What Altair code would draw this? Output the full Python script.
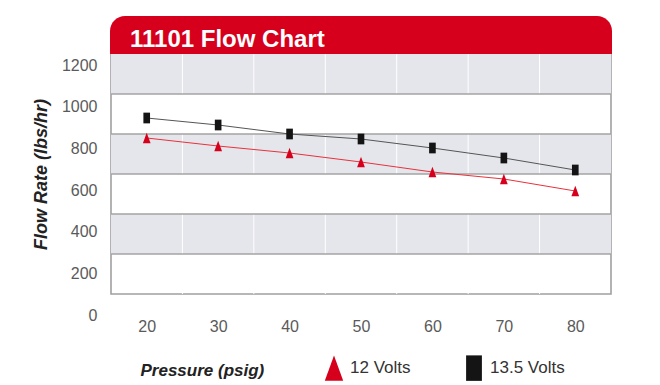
import altair as alt
import pandas as pd

title_text = "11101 Flow Chart"
pressure = [20, 30, 40, 50, 60, 70, 80]
volts_12 = [780, 740, 705, 660, 610, 575, 515]
volts_135 = [880, 845, 800, 775, 730, 680, 620]
series_names = ["12 Volts", "13.5 Volts"]
y_ticks = [0, 200, 400, 600, 800, 1000, 1200]
band_starts = [1000, 600, 200]
x_grid = [25, 35, 45, 55, 65, 75]

RED = "#d6001c"
FONT = "Liberation Sans"

rows = []
for p, a, b in zip(pressure, volts_12, volts_135):
    rows.append({"pressure": p, "flow": a, "series": series_names[0]})
    rows.append({"pressure": p, "flow": b, "series": series_names[1]})
df = pd.DataFrame(rows)
bands = pd.DataFrame({"y0": band_starts, "y1": [v + 200 for v in band_starts]})
hgrid = pd.DataFrame({"y": y_ticks[1:-1]})
vgrid = pd.DataFrame({"x": x_grid})
banner = pd.DataFrame({"t": [title_text]})

W, H = 500, 240
xs = alt.Scale(domain=[15, 85], nice=False, zero=False)
ys = alt.Scale(domain=[0, 1200], nice=False)

y_axis = alt.Axis(
    title="Flow Rate (lbs/hr)", values=y_ticks, format="d", labelOverlap=False,
    labelBound=False, grid=False, ticks=False, domain=False,
    labelFont=FONT, labelFontSize=16, labelColor="#5a5a5a", labelPadding=14,
    labelBaseline="middle",
    labelOffset=alt.expr("11 + (1200 - datum.value) / 120"),
    titleFont=FONT, titleFontSize=18, titleFontWeight="bold", titleFontStyle="italic",
    titleColor="#222", titleAngle=-90, titleX=-70, titleY=120,
    titleAlign="center", titleBaseline="middle")

x_axis = alt.Axis(
    title="Pressure (psig)", values=pressure, labelOverlap=False,
    grid=False, ticks=False, domain=False,
    labelFont=FONT, labelFontSize=16, labelColor="#5a5a5a", labelPadding=24,
    titleFont=FONT, titleFontSize=17, titleFontWeight="bold", titleFontStyle="italic",
    titleColor="#222", titleX=29, titleY=76, titleAlign="left", titleBaseline="middle")

band_layer = alt.Chart(bands).mark_rect(color="#e5e6eb").encode(
    x=alt.value(0), x2=alt.value(W),
    y=alt.Y("y0:Q", scale=ys, axis=y_axis, title="Flow Rate (lbs/hr)"),
    y2="y1:Q",
)

vgrid_layer = alt.Chart(vgrid).mark_rule(color="#ffffff", strokeWidth=1).encode(
    x=alt.X("x:Q", scale=xs, axis=x_axis, title="Pressure (psig)"),
)

hgrid_layer = alt.Chart(hgrid).mark_rule(color="#a3a3a3", strokeWidth=1.6).encode(
    y=alt.Y("y:Q", scale=ys, axis=y_axis, title="Flow Rate (lbs/hr)"),
)

tri = "M0,-1L0.72,1L-0.72,1Z"
sq = "M-0.62,-1H0.62V1H-0.62Z"
lab_expr = "datum.label == '13.5 Volts' ? '\u00a0\u00a0\u00a0\u00a013.5 Volts' : datum.label"

line_layer = alt.Chart(df).mark_line(strokeWidth=1).encode(
    x=alt.X("pressure:Q", scale=xs, axis=x_axis, title="Pressure (psig)"),
    y=alt.Y("flow:Q", scale=ys, axis=y_axis, title="Flow Rate (lbs/hr)"),
    color=alt.Color("series:N", scale=alt.Scale(domain=series_names, range=["#e8323c", "#555555"]),
                    legend=None),
)

point_layer = alt.Chart(df).mark_point(filled=True, opacity=1, size=115).encode(
    x=alt.X("pressure:Q", scale=xs, axis=x_axis, title="Pressure (psig)"),
    y=alt.Y("flow:Q", scale=ys, axis=y_axis, title="Flow Rate (lbs/hr)"),
    color=alt.Color("series:N", scale=alt.Scale(domain=series_names, range=[RED, "#141414"]),
                    legend=alt.Legend(title=None, labelExpr=lab_expr)),
    shape=alt.Shape("series:N", scale=alt.Scale(domain=series_names, range=[tri, sq]),
                    legend=alt.Legend(title=None, labelExpr=lab_expr)),
)

banner_rect = alt.Chart(banner).mark_rect(
    color=RED, cornerRadiusTopLeft=15, cornerRadiusTopRight=15
).encode(x=alt.value(-1), x2=alt.value(W + 1), y=alt.value(-38), y2=alt.value(0))

banner_text = alt.Chart(banner).mark_text(
    color="white", font=FONT, fontSize=24, fontWeight="bold", align="left", baseline="alphabetic"
).encode(x=alt.value(19), y=alt.value(-7), text="t:N")

chart = alt.layer(
    band_layer, vgrid_layer, hgrid_layer, line_layer, point_layer, banner_rect, banner_text
).resolve_scale(color="independent", shape="independent").properties(
    width=W, height=H,
    autosize=alt.AutoSizeParams(type="none"),
    padding={"left": 103, "top": 46, "right": 40, "bottom": 90},
).configure_view(
    stroke="#a0a0a0", strokeWidth=1.6
).configure_axis(
    labelOverlap=False
).configure_legend(
    orient="none", legendX=210, legendY=301, direction="horizontal",
    symbolSize=650, symbolStrokeWidth=0, labelFont=FONT, labelFontSize=17,
    labelColor="#333", columnPadding=50, labelOffset=3, padding=0,
)

chart.save("out.html", embed_options={"renderer": "svg", "actions": False})
